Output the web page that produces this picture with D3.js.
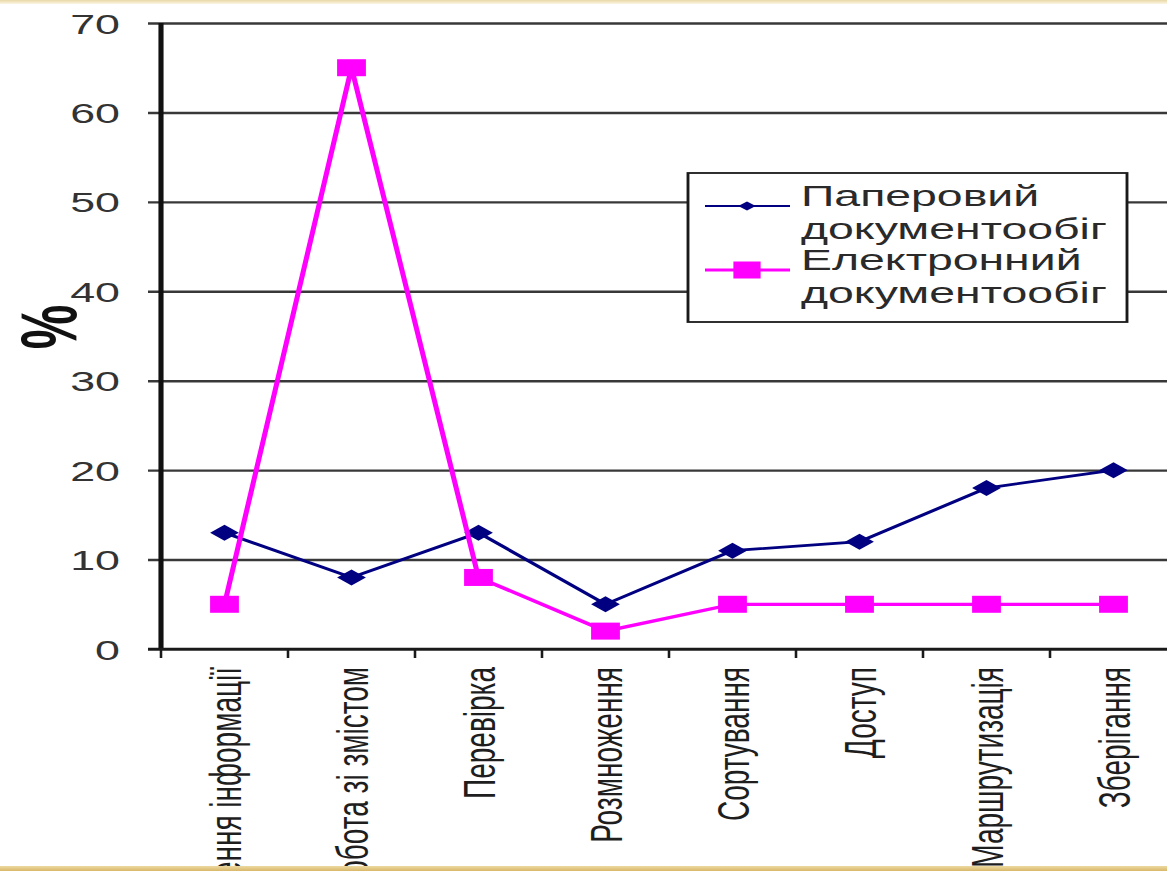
<!DOCTYPE html>
<html>
<head>
<meta charset="utf-8">
<script src="https://cdn.jsdelivr.net/npm/d3@7"></script>
<style>
  html, body { margin: 0; padding: 0; background: #ffffff; overflow: hidden; }
  svg { display: block; }
  text { font-family: "Liberation Sans", Arial, sans-serif; }
</style>
</head>
<body>
<svg id="chart"></svg>
<script>
// Stages of document handling
const categories = [
  "Створення інформації",
  "Робота зі змістом",
  "Перевірка",
  "Розмноження",
  "Сортування",
  "Доступ",
  "Маршрутизація",
  "Зберігання"
];
// Share of time per stage, %
const paperValues = [13, 8, 13, 5, 11, 12, 18, 20];
const electronicValues = [5, 65, 8, 2, 5, 5, 5, 5];
const seriesNames = ["Паперовий документообіг", "Електронний документообіг"];
const legendLines = [["Паперовий", "документообіг"], ["Електронний", "документообіг"]];
const yTicks = [0, 10, 20, 30, 40, 50, 60, 70];
const yLabel = "%";

const W = 1167, H = 871;
const SX = 1.6;               // the drawing is stretched horizontally
const VW = W / SX;            // viewBox width

const svg = d3.select("#chart")
  .attr("width", W).attr("height", H)
  .attr("viewBox", `0 0 ${VW} ${H}`)
  .attr("preserveAspectRatio", "none");

const plotLeft = 161 / SX, plotTop = 23, plotBottom = 649;
const plotRight = 1177 / SX;

const x = d3.scaleBand().domain(categories).range([plotLeft, plotRight]).padding(0);
const y = d3.scaleLinear().domain([0, 70]).range([plotBottom, plotTop]);
const cx = c => x(c) + x.bandwidth() / 2;

// gridlines + y axis
const yAxis = d3.axisLeft(y).tickValues(yTicks).tickSizeOuter(0).tickPadding(0);
const gy = svg.append("g").attr("transform", `translate(${plotLeft},0)`).call(yAxis);
gy.select(".domain").remove();
gy.selectAll(".tick line")
  .attr("x1", -13 / SX).attr("x2", VW - plotLeft)
  .attr("stroke", "#383838").attr("stroke-width", 2.4);
gy.selectAll(".tick text")
  .attr("x", (120 - 161) / SX).attr("dy", "0.36em")
  .attr("text-anchor", "end")
  .attr("fill", "#333").attr("font-size", 28);

// vertical axis line
svg.append("line")
  .attr("x1", plotLeft).attr("x2", plotLeft)
  .attr("y1", y(70)).attr("y2", y(0))
  .attr("stroke", "#111").attr("stroke-width", 3.2);

// x axis
const gx = svg.append("g").attr("transform", `translate(0,${plotBottom})`)
  .call(d3.axisBottom(x).tickSize(0).tickPadding(0));
gx.select(".domain").remove();
gx.selectAll(".tick text")
  .attr("transform", "translate(0,18) rotate(-90)")
  .attr("text-anchor", "end")
  .attr("dy", "0.36em").attr("y", 0)
  .attr("fill", "#1e1e1e").attr("font-size", 28);

svg.append("line")
  .attr("x1", 148 / SX).attr("x2", VW)
  .attr("y1", y(0)).attr("y2", y(0))
  .attr("stroke", "#1a1a1a").attr("stroke-width", 2.6);

// category boundary ticks
const bounds = categories.map(c => x(c)).concat([x(categories[categories.length - 1]) + x.bandwidth()]);
svg.append("g").selectAll("line").data(bounds).join("line")
  .attr("x1", d => d).attr("x2", d => d)
  .attr("y1", y(0)).attr("y2", y(0) + 9)
  .attr("stroke", "#1a1a1a").attr("stroke-width", 1.6);

// y axis title
svg.append("text")
  .attr("transform", `translate(${47 / SX},${327}) rotate(-90)`)
  .attr("text-anchor", "middle").attr("dy", "0.36em")
  .attr("font-size", 50).attr("font-weight", "bold").attr("fill", "#111")
  .text(yLabel);

const line = d3.line().x((d, i) => cx(categories[i])).y(d => y(d));

const paperColor = "#000080", elecColor = "#ff00ff";

// paper series
svg.append("path").datum(paperValues)
  .attr("d", line).attr("fill", "none")
  .attr("stroke", paperColor).attr("stroke-width", 2.8);
const diamond = (px, py, hw, hh) => `M${px - hw},${py}L${px},${py - hh}L${px + hw},${py}L${px},${py + hh}Z`;
svg.append("g").selectAll("path").data(paperValues).join("path")
  .attr("d", (d, i) => diamond(cx(categories[i]), y(d), 9, 8))
  .attr("fill", paperColor);

// electronic series
svg.append("path").datum(electronicValues)
  .attr("d", line).attr("fill", "none")
  .attr("stroke", elecColor).attr("stroke-width", 3.2);
svg.append("g").selectAll("rect").data(electronicValues).join("rect")
  .attr("x", (d, i) => cx(categories[i]) - 9).attr("y", d => y(d) - 8.5)
  .attr("width", 18).attr("height", 17)
  .attr("fill", elecColor);

// legend
const lg = svg.append("g").attr("class", "legend");
lg.append("rect")
  .attr("x", 688 / SX).attr("y", 173)
  .attr("width", (1127 - 688) / SX).attr("height", 149)
  .attr("fill", "#fff").attr("stroke", "#1a1a1a").attr("stroke-width", 1.8);
const lgRowY = [206, 270];
const lgItems = lg.selectAll("g.item").data(seriesNames).join("g").attr("class", "item");
lgItems.append("line")
  .attr("x1", 705 / SX).attr("x2", 790 / SX)
  .attr("y1", (d, i) => lgRowY[i]).attr("y2", (d, i) => lgRowY[i])
  .attr("stroke", (d, i) => i === 0 ? paperColor : elecColor)
  .attr("stroke-width", (d, i) => i === 0 ? 2.2 : 2.8);
lgItems.filter((d, i) => i === 0).append("path")
  .attr("d", diamond(747 / SX, lgRowY[0], 5.5, 4.5)).attr("fill", paperColor);
lgItems.filter((d, i) => i === 1).append("rect")
  .attr("x", 747 / SX - 8.5).attr("y", lgRowY[1] - 8.5)
  .attr("width", 17).attr("height", 17).attr("fill", elecColor);
const lgText = lgItems.append("text")
  .attr("x", 801 / SX).attr("y", (d, i) => lgRowY[i] + 0)
  .attr("font-size", 29).attr("fill", "#2a2a2a");
lgText.selectAll("tspan").data((d, i) => legendLines[i]).join("tspan")
  .attr("x", 801 / SX)
  .attr("dy", (d, j) => j === 0 ? "0" : "1.14em")
  .text(d => d);

// slide frame strips
const defs = svg.append("defs");
const gTop = defs.append("linearGradient").attr("id", "frameTop").attr("x1", 0).attr("x2", 0).attr("y1", 0).attr("y2", 1);
gTop.append("stop").attr("offset", "0%").attr("stop-color", "#e9d8a4");
gTop.append("stop").attr("offset", "100%").attr("stop-color", "#fbf6e6");
svg.append("rect").attr("x", 0).attr("y", 0).attr("width", VW).attr("height", 4).attr("fill", "url(#frameTop)");
const gBot = defs.append("linearGradient").attr("id", "frameBot").attr("x1", 0).attr("x2", 0).attr("y1", 0).attr("y2", 1);
gBot.append("stop").attr("offset", "0%").attr("stop-color", "#ecd9a0");
gBot.append("stop").attr("offset", "100%").attr("stop-color", "#d9b868");
svg.append("rect").attr("x", 0).attr("y", 866).attr("width", VW).attr("height", 5).attr("fill", "url(#frameBot)");
</script>
</body>
</html>
